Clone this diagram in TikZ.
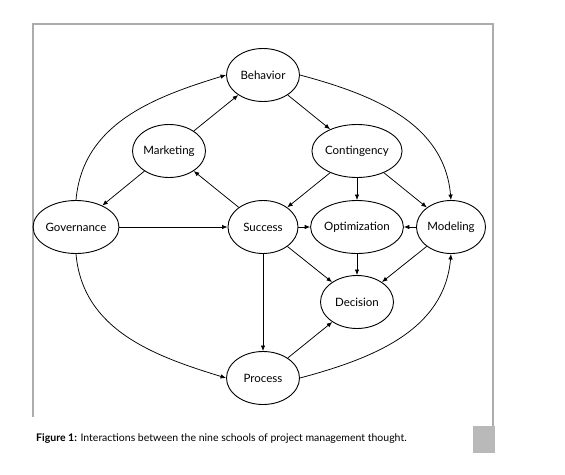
\documentclass[tikz,border=0pt]{standalone}
\usepackage{fontspec}
\setmainfont{Lato}
\usepackage{tikz}
\usetikzlibrary{shapes.geometric,arrows.meta}

\begin{document}
\begin{tikzpicture}[x=1pt,y=-1pt,
		school/.style={ellipse,draw,line width=0.9pt,minimum width=73pt,minimum height=53pt,inner sep=0pt,font=\fontsize{11.5}{13}\selectfont},
		link/.style={-{Latex[length=5.5pt,width=4.5pt]},line width=0.75pt}]
			\useasboundingbox (0,0) rectangle (565,474);
			% frame
			\draw[gray!65,line width=1.8pt] (33,417) -- (33,24) -- (493,24) -- (493,426);
			\fill[gray!55] (473,426) rectangle (495,453);
			
			\node (B) at (263,75)  [school] {Behavior};
			\node (M) at (169,151) [school] {Marketing};
			\node (C) at (357,151) [school] {Contingency};
			\node (G) at (76,227)  [school,minimum width=69pt] {Governance};
			\node (S) at (263,227) [school,minimum width=70pt] {Success};
			\node (O) at (357,227) [school] {Optimization};
			\node (L) at (451,227) [school,minimum width=69pt] {Modeling};
			\node (D) at (357,302) [school] {Decision};
			\node (P) at (263,378) [school] {Process};
			
			\draw[link] (M) -- (B);
			\draw[link] (B) -- (C);
			\draw[link] (M) -- (G);
			\draw[link] (S) -- (M);
			\draw[link] (C) -- (S);
			\draw[link] (C) -- (O);
			\draw[link] (C) -- (L);
			\draw[link] (G) -- (S);
			\draw[link] (S) -- (O);
			\draw[link] (L) -- (O);
			\draw[link] (S) -- (D);
			\draw[link] (O) -- (D);
			\draw[link] (L) -- (D);
			\draw[link] (S) -- (P);
			\draw[link] (P) -- (D);
			
			\draw[link] (G.north) to[out=85,in=197] (B.west);
			\draw[link] (B.east) to[out=-15,in=95] (L.north);
			\draw[link] (G.south) to[out=-85,in=163] (P.west);
			\draw[link] (P.east) to[out=15,in=-95] (L.south);
			
			\node (cap) [anchor=base west,inner sep=0pt,font=\fontsize{10.5}{12}\selectfont] at (36,441) {\textbf{Figure 1:} Interactions between the nine schools of project management thought.};
		\end{tikzpicture}
\end{document}
